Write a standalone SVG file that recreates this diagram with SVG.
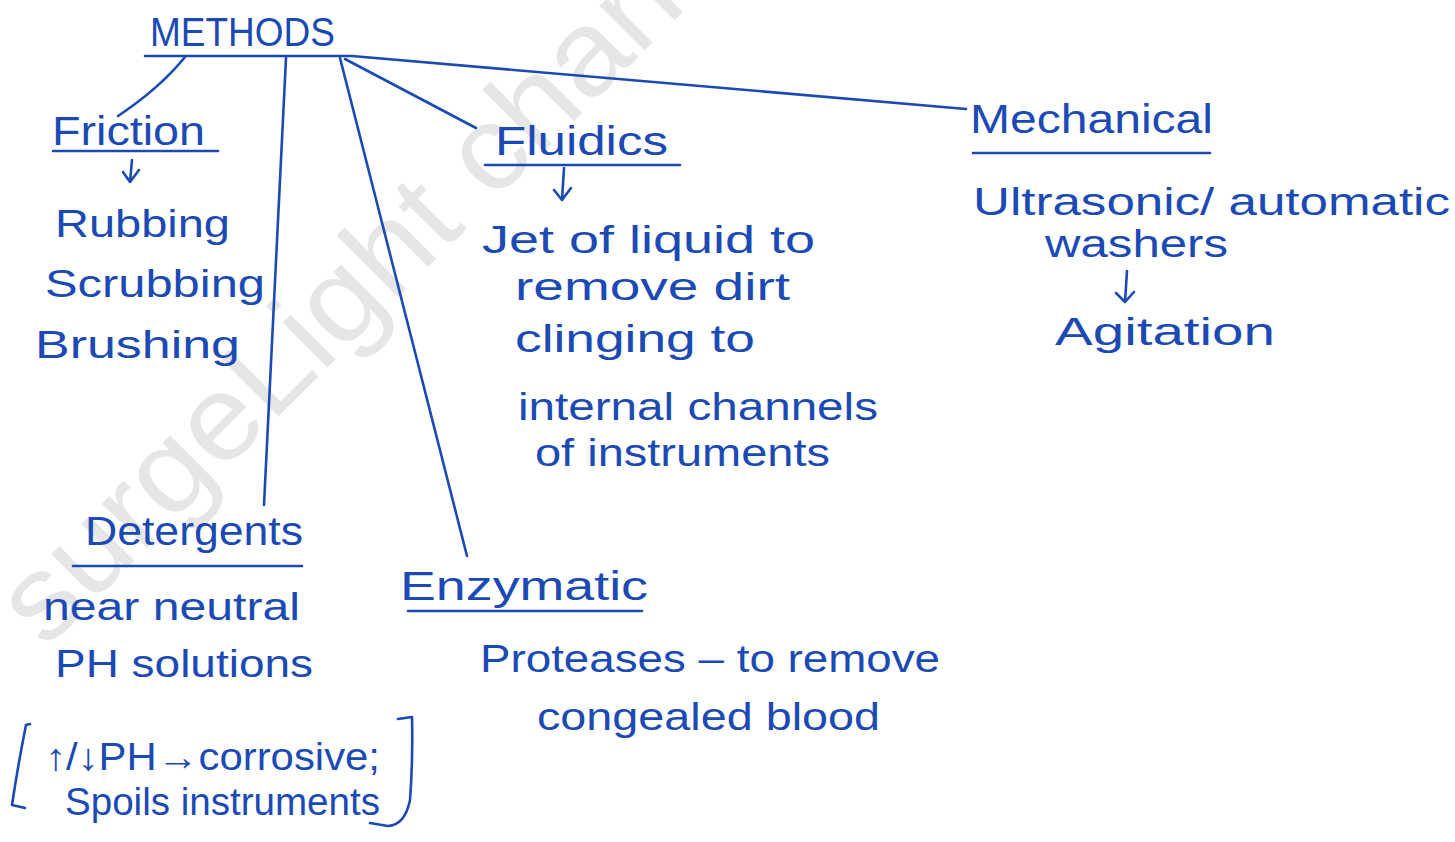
<svg xmlns="http://www.w3.org/2000/svg" width="1455" height="842" viewBox="0 0 1455 842">
<style>
.t{font-family:"Liberation Sans",Arial,sans-serif;fill:#1c4ab5;font-size:38px}
.h{font-size:40px}
.ln{stroke:#1c4ab5;stroke-width:2.6;fill:none;stroke-linecap:round;stroke-linejoin:round}
.wm{font-family:"Liberation Sans",Arial,sans-serif;fill:#e6e6e6;font-size:120px}
</style>
<rect width="1455" height="842" fill="#ffffff"/>
<text class="wm" x="45" y="650" transform="rotate(-45 45 650)" textLength="910" lengthAdjust="spacingAndGlyphs">surgeLight chan</text>

<g id="methods">
<text class="t h" x="150" y="46" textLength="185" lengthAdjust="spacingAndGlyphs">METHODS</text>
<path class="ln" d="M145 56 L352 56"/>
</g>

<g id="connectors">
<path class="ln" d="M185 57 Q160 88 118 116"/>
<path class="ln" d="M286 58 L264 505"/>
<path class="ln" d="M340 58 L467 556"/>
<path class="ln" d="M345 59 L476 128"/>
<path class="ln" d="M352 56 L966 109"/>
</g>

<g id="friction">
<text class="t h" x="52" y="145" textLength="153" lengthAdjust="spacingAndGlyphs">Friction</text>
<path class="ln" d="M53 151 L218 151"/>
<path class="ln" d="M132 160 L130 182 M123 172 L130 182 L139 170"/>
<text class="t" x="55" y="237" textLength="175" lengthAdjust="spacingAndGlyphs">Rubbing</text>
<text class="t" x="45" y="297" textLength="220" lengthAdjust="spacingAndGlyphs">Scrubbing</text>
<text class="t" x="35" y="358" textLength="205" lengthAdjust="spacingAndGlyphs">Brushing</text>
</g>

<g id="fluidics">
<text class="t h" x="495" y="155" textLength="173" lengthAdjust="spacingAndGlyphs">Fluidics</text>
<path class="ln" d="M485 165 L680 165"/>
<path class="ln" d="M564 168 L562 200 M554 190 L562 200 L571 188"/>
<text class="t" x="482" y="253" textLength="333" lengthAdjust="spacingAndGlyphs">Jet of liquid to</text>
<text class="t" x="515" y="300" textLength="275" lengthAdjust="spacingAndGlyphs">remove dirt</text>
<text class="t" x="515" y="352" textLength="240" lengthAdjust="spacingAndGlyphs">clinging to</text>
<text class="t" x="518" y="420" textLength="360" lengthAdjust="spacingAndGlyphs">internal channels</text>
<text class="t" x="535" y="466" textLength="295" lengthAdjust="spacingAndGlyphs">of instruments</text>
</g>

<g id="mechanical">
<text class="t h" x="970" y="133" textLength="243" lengthAdjust="spacingAndGlyphs">Mechanical</text>
<path class="ln" d="M973 153 L1210 153"/>
<text class="t" x="973" y="215" textLength="477" lengthAdjust="spacingAndGlyphs">Ultrasonic/ automatic</text>
<text class="t" x="1045" y="257" textLength="183" lengthAdjust="spacingAndGlyphs">washers</text>
<path class="ln" d="M1127 271 L1125 302 M1116 293 L1125 302 L1134 292"/>
<text class="t" x="1055" y="345" textLength="220" lengthAdjust="spacingAndGlyphs">Agitation</text>
</g>

<g id="detergents">
<text class="t h" x="85" y="545" textLength="218" lengthAdjust="spacingAndGlyphs">Detergents</text>
<path class="ln" d="M73 566 L302 566"/>
<text class="t" x="43" y="620" textLength="257" lengthAdjust="spacingAndGlyphs">near neutral</text>
<text class="t" x="55" y="677" textLength="258" lengthAdjust="spacingAndGlyphs">PH solutions</text>
<path class="ln" d="M30 724 L26 725 Q18 765 12 805 L25 808"/>
<path class="ln" d="M398 719 L412 717 Q413 760 410 800 Q405 825 388 826 L370 823"/>
<text class="t" x="45" y="770" textLength="335" lengthAdjust="spacingAndGlyphs">↑/↓PH→corrosive;</text>
<text class="t" x="65" y="815" textLength="315" lengthAdjust="spacingAndGlyphs">Spoils instruments</text>
</g>

<g id="enzymatic">
<text class="t h" x="400" y="600" textLength="248" lengthAdjust="spacingAndGlyphs">Enzymatic</text>
<path class="ln" d="M408 611 L642 611"/>
<text class="t" x="480" y="672" textLength="460" lengthAdjust="spacingAndGlyphs">Proteases – to remove</text>
<text class="t" x="537" y="730" textLength="343" lengthAdjust="spacingAndGlyphs">congealed blood</text>
</g>
</svg>
